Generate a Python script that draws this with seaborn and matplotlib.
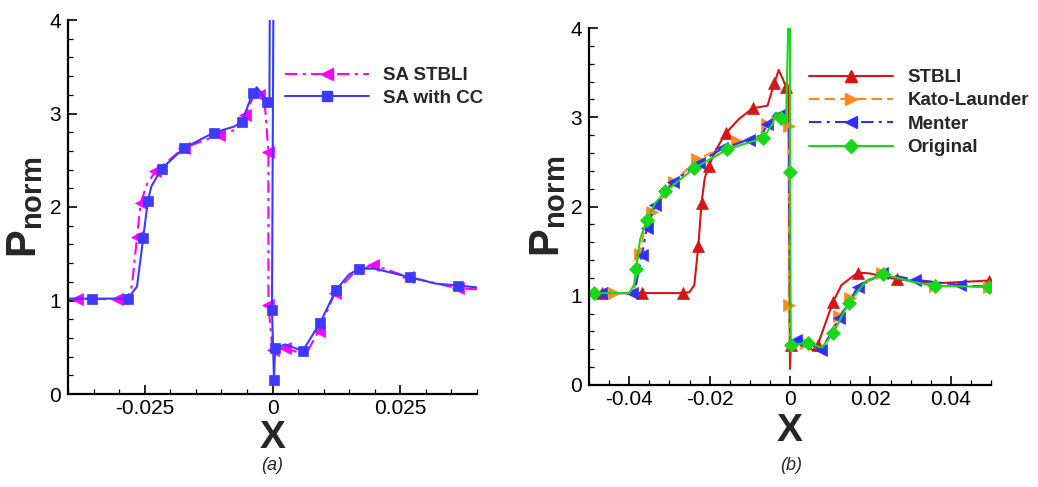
import numpy as np
import pandas as pd
import matplotlib
matplotlib.use("Agg")
import matplotlib.pyplot as plt
from matplotlib.lines import Line2D
from matplotlib.ticker import MultipleLocator, FuncFormatter
import seaborn as sns

sns.set_theme(style="white")
plt.rcParams['font.family'] = ['Liberation Sans', 'DejaVu Sans']
plt.rcParams['axes.unicode_minus'] = False
plt.rcParams['mathtext.fontset'] = 'custom'
plt.rcParams['mathtext.rm'] = 'Liberation Sans'
plt.rcParams['mathtext.bf'] = 'Liberation Sans:bold'
plt.rcParams['mathtext.it'] = 'Liberation Sans:italic'

# ---------------- data: panel (a) ----------------
sa_stbli_x = [-0.0400, -0.0382, -0.0305, -0.0285, -0.0275, -0.0265, -0.0258, -0.0245, -0.0229,
              -0.0174, -0.0105, -0.0070, -0.0053, -0.0035, -0.0027, -0.0015, -0.0008, -0.0008,
              0.0000, 0.0025, 0.0065, 0.0090, 0.0122, 0.0160, 0.0197, 0.0266, 0.0363, 0.0400]
sa_stbli_y = [1.016, 1.016, 1.016, 1.02, 1.15, 1.68, 2.04, 2.25, 2.38,
              2.63, 2.77, 2.83, 2.98, 3.22, 3.20, 3.10, 2.59, 0.95,
              0.47, 0.49, 0.42, 0.67, 1.08, 1.30, 1.38, 1.25, 1.13, 1.12]
sa_stbli_marks = [1, 2, 5, 6, 8, 9, 10, 12, 14, 16, 17, 18, 19, 21, 22, 24, 25, 26]

sa_cc_x = [-0.0400, -0.0353, -0.0283, -0.0265, -0.0253, -0.0244, -0.0237, -0.0217, -0.0173,
           -0.0115, -0.0075, -0.0060, -0.0039, -0.0031, -0.0022, -0.0011, -0.0006, -0.0005,
           0.0002, -0.0001, 0.0003, 0.0005, 0.0025, 0.0059, 0.0093, 0.0124, 0.0150, 0.0170,
           0.0200, 0.0268, 0.0320, 0.0363, 0.0400]
sa_cc_y = [1.02, 1.02, 1.02, 1.15, 1.665, 2.06, 2.22, 2.41, 2.63,
           2.795, 2.86, 2.91, 3.215, 3.28, 3.22, 3.12, 3.10, 4.5,
           4.5, 0.90, 0.15, 0.49, 0.53, 0.46, 0.76, 1.11, 1.28, 1.34,
           1.34, 1.25, 1.18, 1.16, 1.14]
sa_cc_marks = [1, 2, 4, 5, 7, 8, 9, 11, 12, 15, 19, 20, 21, 23, 24, 25, 27, 29, 31]

# ---------------- data: panel (b) ----------------
stbli_x = [-0.0500, -0.0468, -0.0368, -0.0267, -0.0250, -0.0238, -0.0228, -0.0220, -0.0212,
           -0.0202, -0.0185, -0.0160, -0.0127, -0.0093, -0.0056, -0.0039, -0.0028, -0.0018,
           -0.0010, -0.0004, 0.0000, 0.0002, 0.0030, 0.0057, 0.0069, 0.0107, 0.0128, 0.0169,
           0.0198, 0.0265, 0.0365, 0.0494]
stbli_y = [1.03, 1.03, 1.03, 1.03, 1.04, 1.12, 1.56, 2.04, 2.32,
           2.45, 2.63, 2.82, 2.98, 3.10, 3.13, 3.38, 3.53, 3.43,
           3.34, 3.30, 0.18, 0.45, 0.47, 0.39, 0.45, 0.93, 1.12, 1.26,
           1.25, 1.185, 1.14, 1.17]
stbli_marks = [1, 2, 3, 6, 7, 9, 11, 13, 15, 18, 21, 24, 25, 27, 29, 31]

kato_x = [-0.0500, -0.0439, -0.0400, -0.0385, -0.0373, -0.0362, -0.0343, -0.0289, -0.0231,
          -0.0131, -0.0080, -0.0056, -0.0035, -0.0020, -0.0003, -0.0003, 0.0000, 0.0040,
          0.0078, 0.0123, 0.0150, 0.0173, 0.0230, 0.0300, 0.0360, 0.0494]
kato_y = [1.03, 1.03, 1.03, 1.10, 1.47, 1.75, 1.94, 2.27, 2.53,
          2.73, 2.78, 2.92, 3.04, 2.97, 2.90, 0.90, 0.46, 0.47,
          0.39, 0.77, 0.97, 1.10, 1.25, 1.17, 1.11, 1.10]
kato_marks = [1, 4, 6, 7, 8, 9, 11, 14, 15, 17, 19, 20, 22, 24, 25]

menter_x = [-0.0500, -0.0470, -0.0393, -0.0385, -0.0368, -0.0356, -0.0335, -0.0290, -0.0227,
            -0.0168, -0.0102, -0.0070, -0.0056, -0.0035, -0.0027, -0.0010, -0.0002, 0.0000,
            0.0015, 0.0050, 0.0078, 0.0123, 0.0169, 0.0230, 0.0310, 0.0423, 0.0494]
menter_y = [1.03, 1.03, 1.03, 1.08, 1.46, 1.76, 2.02, 2.27, 2.49,
            2.65, 2.75, 2.80, 2.92, 3.05, 3.03, 2.93, 2.90, 0.46,
            0.50, 0.46, 0.39, 0.75, 1.10, 1.25, 1.18, 1.12, 1.10]
menter_marks = [1, 2, 4, 5, 6, 7, 8, 9, 10, 12, 14, 18, 20, 21, 22, 23, 24, 25]

orig_x = [-0.0500, -0.0487, -0.0400, -0.0388, -0.0383, -0.0373, -0.0356, -0.0335, -0.0310,
          -0.0238, -0.0156, -0.0093, -0.0066, -0.0043, -0.0035, -0.0023, -0.0010, -0.0002,
          0.0000, 0.0000, 0.0002, 0.0044, 0.0080, 0.0107, 0.0146, 0.0190, 0.0232, 0.0300,
          0.0360, 0.0494]
orig_y = [1.03, 1.03, 1.03, 1.12, 1.30, 1.63, 1.85, 2.04, 2.17,
          2.43, 2.64, 2.73, 2.77, 2.93, 3.05, 2.99, 2.93, 4.5,
          4.5, 2.39, 0.45, 0.47, 0.42, 0.58, 0.92, 1.17, 1.24, 1.16,
          1.11, 1.10]
orig_marks = [1, 4, 6, 8, 9, 10, 12, 15, 19, 20, 21, 23, 24, 26, 28, 29]

# ---------------- styling ----------------
C_MAG = '#ff00ff'
C_BLU = '#3b3bff'
C_RED = '#d41616'
C_ORA = '#ff8a1c'
C_MEN = '#2f2fff'
C_GRN = '#18d818'
LW = 1.5
DASHDOT = (0, (6, 2.5, 1.5, 2.5))
DASHED = (0, (5, 2.5))

fig = plt.figure(figsize=(10.38, 4.87), dpi=100)
ax1 = fig.add_axes([68 / 1038, 1 - 394 / 487, 409 / 1038, 374 / 487])
ax2 = fig.add_axes([589 / 1038, 1 - 385 / 487, 402 / 1038, 357 / 487])


def draw(ax, xs, ys, marks, color, ls, marker, ms):
    df = pd.DataFrame({'x': xs, 'y': ys})
    sns.lineplot(data=df, x='x', y='y', ax=ax, sort=False, estimator=None,
                 color=color, lw=LW, linestyle=ls, marker=marker, markersize=ms,
                 markevery=marks, markeredgecolor=color, markerfacecolor=color,
                 markeredgewidth=0.5, legend=False)


draw(ax1, sa_stbli_x, sa_stbli_y, sa_stbli_marks, C_MAG, DASHDOT, '<', 8)
draw(ax1, sa_cc_x, sa_cc_y, sa_cc_marks, C_BLU, '-', 's', 6.5)

draw(ax2, stbli_x, stbli_y, stbli_marks, C_RED, '-', '^', 8)
draw(ax2, kato_x, kato_y, kato_marks, C_ORA, DASHED, '>', 8)
draw(ax2, menter_x, menter_y, menter_marks, C_MEN, DASHDOT, '<', 8)
draw(ax2, orig_x, orig_y, orig_marks, C_GRN, '-', 'D', 7)

for ax in (ax1, ax2):
    ax.set_ylim(0, 4)
    ax.yaxis.set_major_locator(MultipleLocator(1))
    ax.yaxis.set_minor_locator(MultipleLocator(0.2))
    ax.xaxis.set_minor_locator(MultipleLocator(0.005))
    ax.tick_params(which='major', direction='in', length=6.5, width=1.2,
                   labelsize=15, pad=5, color='black', labelcolor='black')
    ax.tick_params(axis='x', which='major', pad=3.5)
    ax.tick_params(which='minor', direction='in', length=3.5, width=0.9, color='black')
    ax.tick_params(which='both', bottom=True, left=True, top=False, right=False)
    for s in ('top', 'right'):
        ax.spines[s].set_visible(False)
    for s in ('left', 'bottom'):
        ax.spines[s].set_color('black')
        ax.spines[s].set_linewidth(1.6)
    ax.set_facecolor('white')
    ax.set_xlabel(r'$\mathbf{X}$', fontsize=28)
    ax.set_ylabel(r'$\mathbf{P}_{\mathbf{norm}}$', fontsize=30)

ax1.set_xlim(-0.04, 0.04)
ax1.xaxis.set_major_locator(MultipleLocator(0.025))
ax1.xaxis.set_major_formatter(FuncFormatter(lambda v, p: '0' if abs(v) < 1e-9 else f'{v:.3f}'))
ax2.set_xlim(-0.05, 0.05)
ax2.xaxis.set_major_locator(MultipleLocator(0.02))
ax2.xaxis.set_major_formatter(FuncFormatter(lambda v, p: '0' if abs(v) < 1e-9 else f'{v:.2f}'))

ax1.xaxis.set_label_coords(0.5, -0.07)
ax2.xaxis.set_label_coords(0.5, -0.078)
ax1.yaxis.set_label_coords(-0.055, 0.5)
ax2.yaxis.set_label_coords(-0.052, 0.5)

# legends
h1 = [Line2D([], [], color=C_MAG, lw=LW, ls=DASHDOT, marker='<', ms=8, mec=C_MAG),
      Line2D([], [], color=C_BLU, lw=LW, ls='-', marker='s', ms=6.5, mec=C_BLU)]
ax1.legend(h1, ['SA STBLI', 'SA with CC'], loc='upper left', frameon=False,
           bbox_to_anchor=(285 / 1038, 1 - 67 / 487), bbox_transform=fig.transFigure,
           prop={'weight': 'bold', 'size': 13.5}, handlelength=4.5, handletextpad=0.75,
           labelspacing=0.3, borderpad=0, borderaxespad=0)

h2 = [Line2D([], [], color=C_RED, lw=LW, ls='-', marker='^', ms=8, mec=C_RED),
      Line2D([], [], color=C_ORA, lw=LW, ls=DASHED, marker='>', ms=8, mec=C_ORA),
      Line2D([], [], color=C_MEN, lw=LW, ls=DASHDOT, marker='<', ms=8, mec=C_MEN),
      Line2D([], [], color=C_GRN, lw=LW, ls='-', marker='D', ms=7, mec=C_GRN)]
ax2.legend(h2, ['STBLI', 'Kato-Launder', 'Menter', 'Original'], loc='upper left', frameon=False,
           bbox_to_anchor=(809 / 1038, 1 - 69 / 487), bbox_transform=fig.transFigure,
           prop={'weight': 'bold', 'size': 13.5}, handlelength=4.5, handletextpad=0.75,
           labelspacing=0.33, borderpad=0, borderaxespad=0)

fig.text(272 / 1038, 1 - 466 / 487, '(a)', ha='center', va='center', fontsize=13, style='italic')
fig.text(791 / 1038, 1 - 466 / 487, '(b)', ha='center', va='center', fontsize=13, style='italic')

fig.savefig('out.png', dpi=100, facecolor='white')
